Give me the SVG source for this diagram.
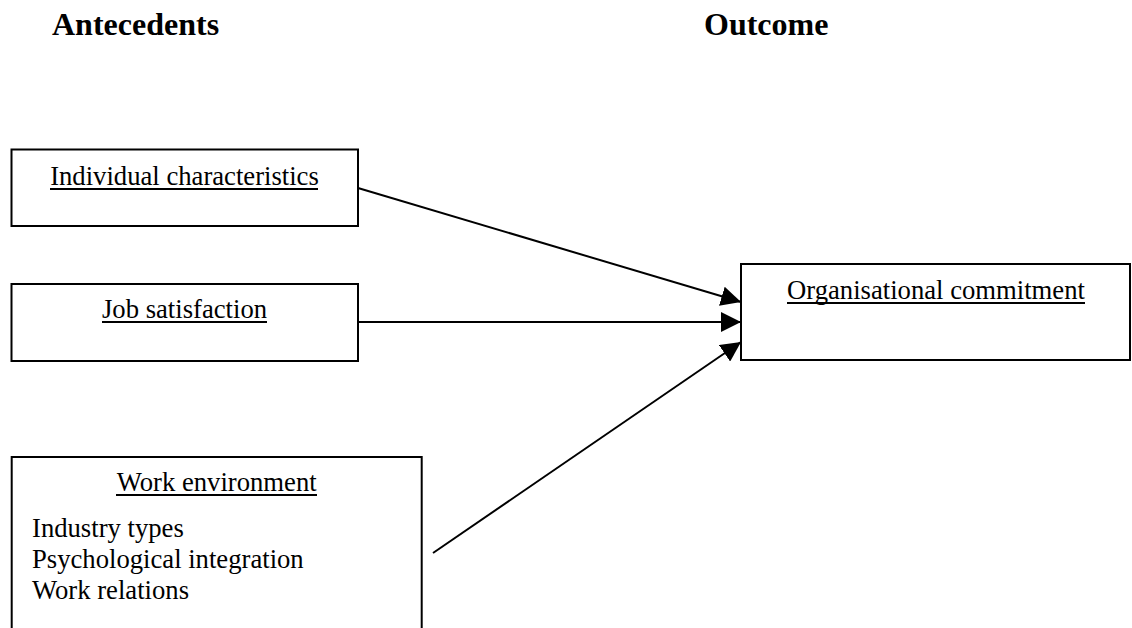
<svg xmlns="http://www.w3.org/2000/svg" width="1132" height="628" viewBox="0 0 1132 628">
<style>
.box{fill:#fff;stroke:#000;stroke-width:2}
.t{font-family:"Liberation Serif","Times New Roman",serif;font-size:26.67px;fill:#000}
.h{font-family:"Liberation Serif","Times New Roman",serif;font-size:32px;font-weight:bold;fill:#000}
.u{stroke:#000;stroke-width:2}
.c{stroke:#000;stroke-width:2;fill:none;marker-end:url(#ah)}
</style>
<defs>
<marker id="ah" markerUnits="userSpaceOnUse" markerWidth="20" markerHeight="20" refX="20" refY="10" orient="auto" viewBox="0 0 20 20">
<path d="M0,0 L20,10 L0,20 z" fill="#000"/>
</marker>
</defs>
<rect width="1132" height="628" fill="#fff"/>
<g id="headers">
<text class="h" x="52" y="35">Antecedents</text>
<text class="h" x="704" y="35">Outcome</text>
</g>
<g id="connectors">
<line class="c" x1="358" y1="188" x2="741" y2="302"/>
<line class="c" x1="358" y1="322" x2="741" y2="322"/>
<line class="c" x1="433" y1="553" x2="741" y2="342"/>
</g>
<g id="individual">
<rect class="box" x="11.5" y="149.5" width="346.5" height="76.5"/>
<text class="t" x="184.5" y="185" text-anchor="middle">Individual characteristics</text>
<line class="u" x1="50" y1="189" x2="318" y2="189"/>
</g>
<g id="job">
<rect class="box" x="11.5" y="284" width="346.5" height="77"/>
<text class="t" x="184.5" y="318" text-anchor="middle">Job satisfaction</text>
<line class="u" x1="102" y1="322" x2="267" y2="322"/>
</g>
<g id="commitment">
<rect class="box" x="741" y="264" width="389" height="96"/>
<text class="t" x="936" y="299" text-anchor="middle">Organisational commitment</text>
<line class="u" x1="787" y1="303" x2="1085" y2="303"/>
</g>
<g id="environment">
<rect class="box" x="11.7" y="457" width="410" height="200"/>
<text class="t" x="216.7" y="491" text-anchor="middle">Work environment</text>
<line class="u" x1="116" y1="495" x2="317" y2="495"/>
<text class="t" x="32" y="537">Industry types</text>
<text class="t" x="32" y="568">Psychological integration</text>
<text class="t" x="32" y="599">Work relations</text>
</g>
</svg>
